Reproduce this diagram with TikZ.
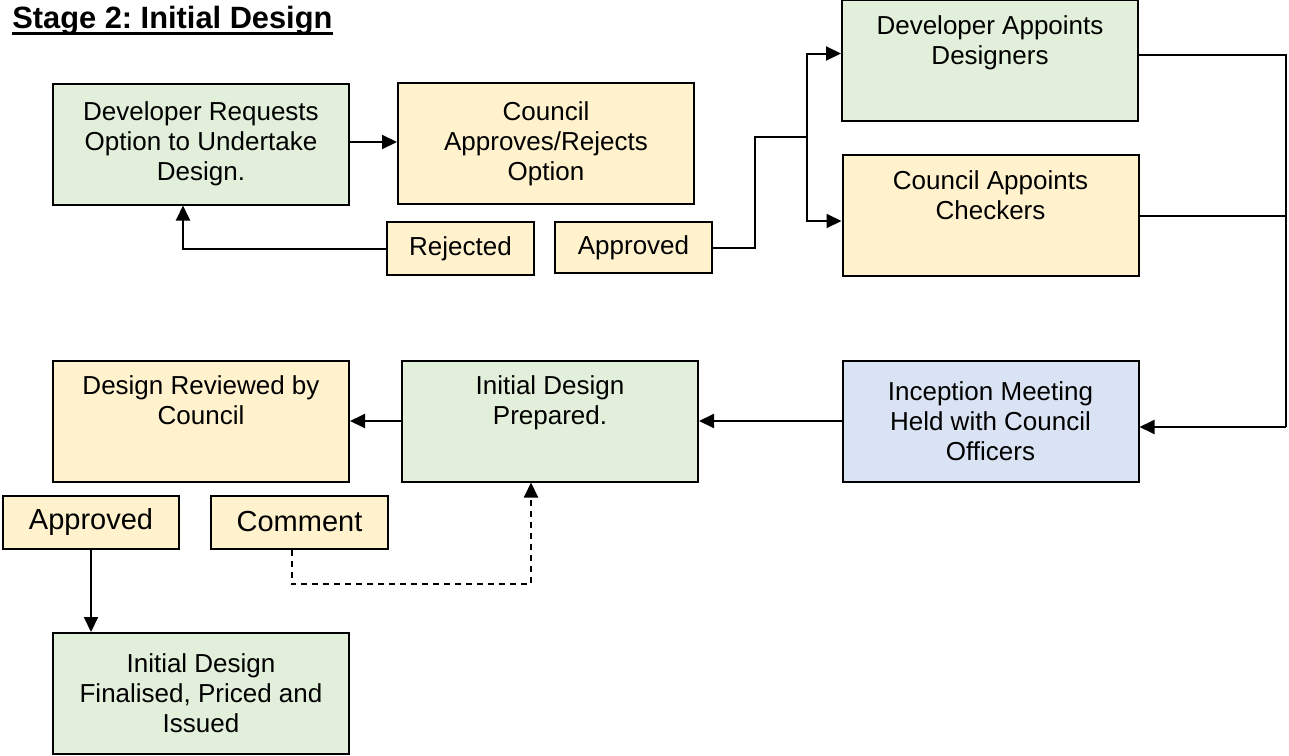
\documentclass[tikz,border=0pt]{standalone}
\usepackage{fontspec}
\setmainfont{Liberation Sans}
\usetikzlibrary{arrows.meta}
\frenchspacing

\definecolor{devgreen}{RGB}{226,239,218}
\definecolor{cnlyellow}{RGB}{255,242,204}
\definecolor{mtgblue}{RGB}{218,227,243}

\newcommand{\dims}{
\def\bw{148pt}   % stage box
\def\bh{60.5pt}
\def\th{26.5pt}  % decision tags
\def\toff{-4.6pt} % drop of top-set text
}
\newcommand{\boxfont}{\fontsize{13}{15}\selectfont}

\begin{document}
\begin{tikzpicture}[x=0.5pt,y=-0.5pt,font=\boxfont,
    box/.style={draw,line width=1pt,align=center,minimum width=\bw,minimum height=\bh,inner sep=2pt},
    tag/.style={draw,line width=1pt,fill=cnlyellow,minimum height=\th,inner sep=2pt},
    bigtag/.style={tag,font=\fontsize{14.5}{17}\selectfont},
    link/.style={line width=1pt},
    arr/.style={link,-{Triangle[length=7.5pt,width=7pt]}},
    every label/.append style={anchor=north,align=center,font=\boxfont,yshift=\toff}]
      \dims
      \useasboundingbox (0,0) rectangle (1289,755);
%
      \node[anchor=base west,inner sep=0pt,font=\fontsize{15.4}{18}\selectfont\bfseries] (title) at (12,28.5) {Stage 2: Initial Design};
      \draw[line width=1.3pt] ([yshift=-2.6pt]title.base west) -- ([yshift=-2.6pt]title.base east);
%
      \node[box,fill=devgreen] (reqopt) at (201,144) {Developer Requests\\Option to Undertake\\Design.};
      \node[box,fill=cnlyellow] (optdecide) at (546,143.5) {Council\\Approves/Rejects\\Option};
      \node[tag,minimum width=73.5pt] (rejected) at (460.5,248.5) {Rejected};
      \node[tag,minimum width=78.5pt,minimum height=25.5pt] (approved) at (633.5,247.5) {Approved};
%
      \node[box,fill=devgreen,label={north:Developer Appoints\\Designers}] (devdesign) at (990,60.5) {};
      \node[box,fill=cnlyellow,label={north:Council Appoints\\Checkers}] (chkappoint) at (990.5,215.5) {};
%
      \node[box,fill=mtgblue] (inception) at (990.5,421) {Inception Meeting\\Held with Council\\Officers};
      \node[box,fill=devgreen,label={north:Initial Design\\Prepared.}] (prepared) at (550,421) {};
      \node[box,fill=cnlyellow,label={north:Design Reviewed by\\Council}] (reviewed) at (201,421) {};
%
      \node[bigtag,minimum width=88pt] (accept) at (91,522) {Approved};
      \node[bigtag,minimum width=88.5pt] (comment) at (299.5,522) {Comment};
      \node[box,fill=devgreen] (finalised) at (201,693.5) {Initial Design\\Finalised, Priced and\\Issued};
%
      \coordinate (fork) at (807,137);
      \coordinate (rail) at (1286,427);
      \coordinate (loop) at (291.5,584);
%
      \draw[arr] ([yshift=1pt]reqopt.east) -- ([yshift=1pt]reqopt.east -| optdecide.west);
      \draw[arr] (rejected.west) -| ([xshift=-9pt]reqopt.south);
      \draw[link] (approved.east) -- ++(42,0) |- (fork);
      \draw[arr] (fork) |- ([yshift=3.5pt]devdesign.west);
      \draw[arr] (fork) |- ([yshift=-2.75pt]chkappoint.west);
%
      \draw[link] ([yshift=3pt]devdesign.east) -| (rail);
      \draw[link] (chkappoint.east) -- (chkappoint.east -| rail);
      \draw[arr] (rail) -- (rail -| inception.east);
      \draw[arr] (inception.west) -- (prepared.east);
      \draw[arr] (prepared.west) -- (reviewed.east);
%
      \draw[arr] (accept) -- (accept |- finalised.north);
      \draw[arr,dash pattern=on 3pt off 2.5pt] (loop |- comment.south) -- (loop) -| ([xshift=-9.5pt]prepared.south);
    \end{tikzpicture}
\end{document}
